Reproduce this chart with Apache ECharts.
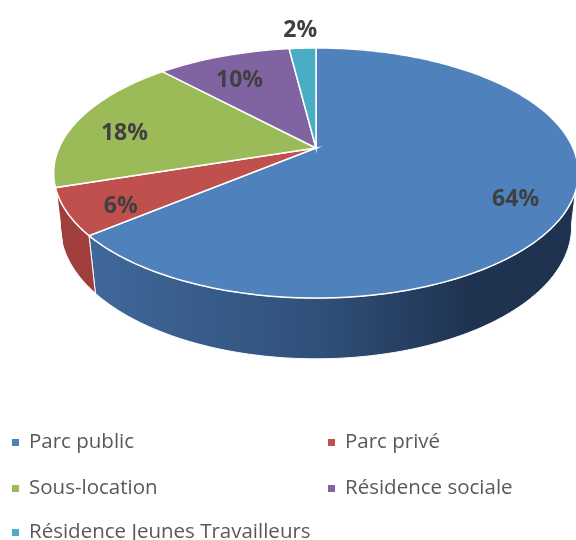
<!DOCTYPE html>
<html>
<head>
<meta charset="utf-8">
<script src="https://cdn.jsdelivr.net/npm/echarts@6/dist/echarts.min.js"></script>
<style>
  html, body { margin: 0; padding: 0; background: #fff; }
  #chart { width: 576px; height: 540px; }
</style>
</head>
<body>
<div id="chart"></div>
<script>
// data
const categories = ['Parc public', 'Parc privé', 'Sous-location', 'Résidence sociale', 'Résidence Jeunes Travailleurs'];
const shares = [64, 6, 18, 10, 2];
const topColors = ['#4f81bd', '#c0504d', '#9bbb59', '#8064a2', '#4bacc6'];
const sideColors = [
  ['#416b9e', '#30507a', '#1f3350'],
  ['#a03e3b', '#a8423f', '#b0473f'],
  ['#7e9a47', '#7e9a47', '#7e9a47'],
  ['#67518a', '#67518a', '#67518a'],
  ['#3a8ea6', '#3a8ea6', '#3a8ea6']
];

// 3D pie geometry (perspective view of a tilted disc)
const CX = 316, CY = 148, R = 257, H = 61;
const SIN = 0.467, COS = 0.884, D = 1136;
const total = shares.reduce((a, b) => a + b, 0);
const starts = [];
shares.reduce((acc, v, i) => { starts[i] = acc; return acc + v; }, 0);

function proj(theta, k, h) {
  const a = theta * Math.PI / 180;
  const X = R * k * Math.sin(a), Y = -R * k * Math.cos(a);
  const depth = Y * COS + h * SIN;
  const f = D / (D - depth);
  return [CX + X * f, CY + (Y * SIN - h * COS) * f];
}
function arc(t1, t2, h) {
  const pts = [];
  const n = Math.max(2, Math.ceil(Math.abs(t2 - t1)));
  for (let i = 0; i <= n; i++) pts.push(proj(t1 + (t2 - t1) * i / n, 1, h));
  return pts;
}
function angles(i) {
  return [starts[i] / total * 360, (starts[i] + shares[i]) / total * 360];
}

function renderWall(params, api) {
  const i = params.dataIndex;
  const [t1, t2] = angles(i);
  const a = Math.max(t1, 100), b = Math.min(t2, 260);
  if (a >= b) return null;
  const pts = arc(a, b, 0).concat(arc(a, b, -H).reverse());
  const c = sideColors[i];
  return {
    type: 'polygon',
    shape: { points: pts },
    style: {
      fill: {
        type: 'linear', x: 60, y: 0, x2: 576, y2: 0, global: true,
        colorStops: [
          { offset: 0, color: c[0] },
          { offset: 0.5, color: c[1] },
          { offset: 0.8, color: c[2] },
          { offset: 1, color: c[2] }
        ]
      },
      stroke: '#ffffff',
      lineWidth: 1
    }
  };
}

function renderTop(params, api) {
  const i = params.dataIndex;
  const [t1, t2] = angles(i);
  const pts = [proj(0, 0, 0)].concat(arc(t1, t2, 0));
  const mid = (t1 + t2) / 2;
  const outside = shares[i] / total < 0.03;
  const lp = proj(mid, outside ? 1.22 : 0.8, 0);
  return {
    type: 'group',
    children: [
      {
        type: 'polygon',
        shape: { points: pts },
        style: { fill: topColors[i], stroke: '#ffffff', lineWidth: 1.5 }
      },
      {
        type: 'text',
        x: lp[0],
        y: lp[1] + (outside ? 0 : 8),
        z2: 10,
        style: {
          text: Math.round(api.value(0) / total * 100) + '%',
          fill: '#404040',
          font: 'bold 23px "Open Sans"',
          align: 'center',
          verticalAlign: 'middle'
        }
      }
    ]
  };
}

// legend: two columns, three rows (one legend box per entry)
const legendSpots = [[12, 432], [328, 432], [12, 478], [328, 478], [12, 522]];
const legendText = { fontFamily: 'Open Sans', fontSize: 20.5, color: '#595959', lineHeight: 20, padding: [0, 0, 0, 5] };

const chart = echarts.init(document.getElementById('chart'), null, { renderer: 'canvas' });
chart.setOption({
  animation: false,
  color: topColors,
  legend: categories.map((name, i) => ({
    left: legendSpots[i][0], top: legendSpots[i][1], padding: 0,
    data: [name],
    icon: 'rect', itemWidth: 7, itemHeight: 7,
    textStyle: legendText, selectedMode: false
  })),
  series: [
    {
      // feeds the legend only
      type: 'pie', radius: [0, 0], center: [CX, CY], silent: true,
      label: { show: false }, labelLine: { show: false },
      data: categories.map((n, i) => ({ name: n, value: shares[i] }))
    },
    {
      type: 'custom', coordinateSystem: 'none', z: 1, silent: true,
      renderItem: renderWall,
      data: shares
    },
    {
      type: 'custom', coordinateSystem: 'none', z: 2, silent: true,
      renderItem: renderTop,
      data: shares
    }
  ]
});
</script>
</body>
</html>
